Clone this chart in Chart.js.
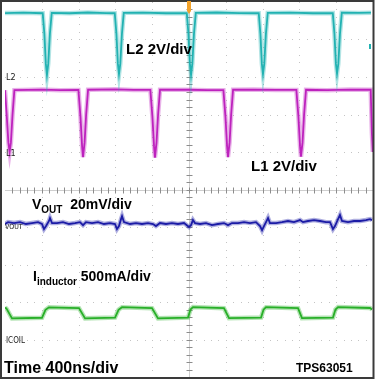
<!DOCTYPE html>
<html>
<head>
<meta charset="utf-8">
<script src="https://cdn.jsdelivr.net/npm/chart.js@4.4.1/dist/chart.umd.min.js"></script>
<style>
html, body { margin: 0; padding: 0; background: #fff; }
canvas { display: block; }
</style>
</head>
<body>
<canvas id="scope" width="376" height="380"></canvas>
<script>
// time base: 400 ns/div, 10 divisions, trigger in the middle
var timeMin = -2000, timeMax = 2000;
var divMin = -5, divMax = 5;

// L2 switch node, volts
var l2Time  = [-2000, -1800, -1590, -1572, -1556, -1544, -1530, -1512, -1492, -1300, -1100, -900,
               -807, -789, -773, -761, -747, -729, -709, -500, -250,
               -24, -6, 10, 22, 36, 54, 74, 300, 550,
               758, 776, 792, 804, 818, 836, 856, 1100, 1350,
               1563, 1581, 1597, 1609, 1623, 1641, 1661, 1850, 1978];
var l2Volts = [3.31, 3.33, 3.30, 2.2, 0.6, 0.0, 0.6, 2.2, 3.32, 3.30, 3.34, 3.31,
               3.30, 2.2, 0.6, 0.05, 0.6, 2.2, 3.32, 3.33, 3.30,
               3.31, 2.2, 0.6, 0.0, 0.6, 2.2, 3.32, 3.34, 3.31,
               3.30, 2.2, 0.6, 0.05, 0.6, 2.2, 3.32, 3.33, 3.30,
               3.31, 2.2, 0.6, 0.07, 0.6, 2.2, 3.33, 3.32, 3.33];

// L1 switch node, volts
var l1Time  = [-2000, -1982, -1963, -1950, -1936, -1918, -1898, -1600, -1400,
               -1202, -1180, -1162, -1152, -1135, -1118, -1097, -800, -600,
               -420, -398, -380, -370, -353, -336, -315, 0, 200,
               374, 396, 414, 424, 441, 458, 479, 700, 950,
               1167, 1189, 1207, 1217, 1234, 1251, 1272, 1500, 1750,
               1975, 1988, 1998];
var l1Volts = [3.30, 2.0, 0.5, 0.0, 0.5, 2.0, 3.30, 3.33, 3.30,
               3.31, 1.9, 0.3, -0.27, 0.5, 2.0, 3.32, 3.34, 3.31,
               3.31, 1.9, 0.3, -0.3, 0.5, 2.0, 3.32, 3.32, 3.30,
               3.30, 1.9, 0.3, -0.27, 0.5, 2.0, 3.32, 3.33, 3.31,
               3.31, 1.9, 0.3, -0.25, 0.5, 2.0, 3.32, 3.30, 3.33,
               3.32, 1.0, 0.0];

// output ripple, mV
var voutTime = [-2000, -1967, -1902, -1837, -1772, -1707, -1641, -1598, -1576, -1554, -1522, -1511, -1489,
                -1435, -1370, -1304, -1239, -1185, -1152, -1120, -1054, -989, -924, -859, -804, -783,
                -761, -739, -728, -707, -641, -576, -511, -446, -391, -359, -315, -250, -185, -120,
                -54, 0, 22, 43, 65, 120, 185, 250, 315, 380, 424, 467, 533, 598, 663, 728, 772, 794,
                815, 848, 859, 880, 946, 1011, 1076, 1141, 1207, 1239, 1294, 1359, 1424, 1489, 1533,
                1565, 1587, 1620, 1641, 1663, 1728, 1794, 1859, 1924, 1967, 1989];
var voutMilliVolts = [1.6, 2.6, 2.1, 2.6, 1.6, 2.1, 2.6, 1.6, -1.1, 0.5, 3.2, 4.8, 2.1,
                      2.1, 2.6, 1.6, 2.1, 2.6, 1.0, 2.6, 2.1, 2.6, 1.6, 2.1, 1.6, -1.1,
                      0.5, 4.2, 5.8, 2.6, 1.6, 2.1, 1.6, 2.1, 1.6, 0.5, 2.1, 1.6, 2.1, 1.6,
                      2.1, 0.0, 1.0, 3.7, 2.1, 1.6, 2.1, 1.0, 1.6, 2.1, 1.0, 2.1, 2.1, 2.6, 2.1, 2.6, 0.5, -1.7,
                      0.5, 3.7, 4.8, 2.1, 2.1, 2.6, 3.2, 2.6, 3.7, 2.6, 3.2, 3.7, 3.2, 2.6, 2.6,
                      -1.1, 0.5, 4.2, 6.4, 3.2, 2.6, 3.2, 3.2, 3.7, 4.2, 3.7];

// inductor current, mA
var coilTime = [-2000, -1985, -1924, -1598, -1560, -1522, -1196, -1130, -804, -766, -728, -402, -337, -11, 16, 43,
                380, 435, 783, 810, 837, 1185, 1228, 1565, 1592, 1620, 1967, 1989];
var coilMilliAmps = [425, 415, 282, 290, 395, 429, 418, 282, 292, 396, 431, 418, 282, 292, 400, 432,
                     418, 284, 292, 398, 431, 418, 284, 292, 400, 432, 420, 400];

// scope channel setup: ground position (div from centre) and units per division
var channels = [
  { name: 'L2', time: l2Time, values: l2Volts, offset: 3.05, perDiv: 2, color: '34,178,178' },
  { name: 'L1', time: l1Time, values: l1Volts, offset: 1.0, perDiv: 2, color: '190,34,190' },
  { name: 'VOUT', time: voutTime, values: voutMilliVolts, offset: -1.0, perDiv: 20, color: '28,28,166' },
  { name: 'ICOIL', time: coilTime, values: coilMilliAmps, offset: -4.0, perDiv: 500, color: '40,176,40' }
];

function toPoints(ch) {
  return ch.time.map(function (t, i) {
    return { x: t, y: ch.offset + ch.values[i] / ch.perDiv };
  });
}

var scopeGrid = {
  id: 'scopeGrid',
  beforeDatasetsDraw: function (chart) {
    var ctx = chart.ctx, xs = chart.scales.x, ys = chart.scales.y;
    var ca = chart.chartArea;
    var xDiv = (timeMax - timeMin) / 10;
    ctx.save();
    // dotted grid
    ctx.fillStyle = '#c4c4c4';
    for (var k = 1; k < 10; k++) {
      if (k === 5) continue;
      var gx = Math.round(xs.getPixelForValue(timeMin + k * xDiv));
      var gy = Math.round(ys.getPixelForValue(divMin + k));
      for (var s = 0; s <= 50; s++) {
        var py = Math.round(ys.getPixelForValue(divMin + s / 5));
        var px = Math.round(xs.getPixelForValue(timeMin + s * xDiv / 5));
        ctx.fillRect(gx, py, 1, 1);
        ctx.fillRect(px, gy, 1, 1);
      }
    }
    // centre cross with minor ticks
    var cx = Math.round(xs.getPixelForValue(0)) + 0.5;
    var cy = Math.round(ys.getPixelForValue(0)) + 0.5;
    ctx.strokeStyle = '#cfcfcf';
    ctx.lineWidth = 1;
    ctx.beginPath();
    ctx.moveTo(ca.left, cy); ctx.lineTo(ca.right, cy);
    ctx.moveTo(cx, ca.top); ctx.lineTo(cx, ca.bottom);
    ctx.stroke();
    ctx.strokeStyle = '#8c8c8c';
    ctx.beginPath();
    for (var m = 1; m < 50; m++) {
      var tx = Math.round(xs.getPixelForValue(timeMin + m * xDiv / 5)) + 0.5;
      var ty = Math.round(ys.getPixelForValue(divMin + m / 5)) + 0.5;
      ctx.moveTo(tx, cy - 3); ctx.lineTo(tx, cy + 3);
      ctx.moveTo(cx - 3, ty); ctx.lineTo(cx + 3, ty);
    }
    ctx.stroke();
    ctx.restore();
  },
  afterDraw: function (chart) {
    var ctx = chart.ctx, ca = chart.chartArea;
    ctx.save();
    ctx.strokeStyle = '#3a3a3a';
    ctx.lineWidth = 2;
    ctx.strokeRect(1, 1, ca.right - 0.5, ca.bottom);
    ctx.restore();
  }
};

function textWithSub(ctx, x, y, main, sub, rest, mainFont, subFont) {
  ctx.font = mainFont;
  ctx.fillText(main, x, y);
  x += ctx.measureText(main).width;
  ctx.font = subFont;
  ctx.fillText(sub, x, y + 4);
  x += ctx.measureText(sub).width;
  ctx.font = mainFont;
  ctx.fillText(rest, x, y);
}

var scopeText = {
  id: 'scopeText',
  afterDraw: function (chart) {
    var ctx = chart.ctx;
    var big = 'bold 15px "Liberation Sans", Arial, sans-serif';
    var mid = 'bold 14px "Liberation Sans", Arial, sans-serif';
    var sub = 'bold 10px "Liberation Sans", Arial, sans-serif';
    var tiny = '"Liberation Sans Narrow", "DejaVu Sans Condensed", sans-serif';
    ctx.save();
    ctx.textBaseline = 'alphabetic';
    ctx.fillStyle = '#000';
    ctx.font = big;
    ctx.fillText('L2 2V/div', 126, 54);
    ctx.fillText('L1 2V/div', 251, 171);
    textWithSub(ctx, 32, 209, 'V', 'OUT', '  20mV/div', mid, sub);
    textWithSub(ctx, 33, 281, 'I', 'inductor', ' 500mA/div', mid, sub);
    ctx.font = 'bold 16px "Liberation Sans", Arial, sans-serif';
    ctx.fillText('Time 400ns/div', 4, 373);
    ctx.font = 'bold 12px "Liberation Sans", Arial, sans-serif';
    ctx.fillText('TPS63051', 296, 372);

    // channel ground labels
    ctx.fillStyle = '#222';
    ctx.font = '9px ' + tiny;
    ctx.fillText('L2', 6, 80);
    ctx.fillText('L1', 6, 156);
    ctx.font = '7px ' + tiny;
    ctx.fillText('VOUT', 5, 229);
    ctx.font = '8px ' + tiny;
    ctx.fillText('ICOIL', 6, 343);

    // trigger position and level markers
    var tx = chart.scales.x.getPixelForValue(0);
    ctx.fillStyle = '#f2a22a';
    ctx.beginPath();
    ctx.moveTo(tx - 2, 1); ctx.lineTo(tx + 2, 1); ctx.lineTo(tx + 2, 11);
    ctx.lineTo(tx, 14); ctx.lineTo(tx - 2, 11); ctx.closePath();
    ctx.fill();
    ctx.fillStyle = 'rgb(34,178,178)';
    ctx.fillRect(369, 44, 2, 5);
    ctx.restore();
  }
};

// each trace drawn twice: a faint wide band for the scope noise, then the core line
var traceSets = [];
channels.forEach(function (ch) {
  var pts = toPoints(ch);
  traceSets.push({ label: ch.name + ' band', data: pts, showLine: true, borderColor: 'rgba(' + ch.color + ',0.35)',
                   borderWidth: 4.5, pointRadius: 0, tension: 0 });
  traceSets.push({ label: ch.name, data: pts, showLine: true, borderColor: 'rgb(' + ch.color + ')',
                   borderWidth: 1.8, pointRadius: 0, tension: 0 });
});

new Chart(document.getElementById('scope'), {
  type: 'scatter',
  data: { datasets: traceSets },
  options: {
    responsive: false,
    animation: false,
    devicePixelRatio: 1,
    layout: { padding: { left: 5, top: 2, right: 3, bottom: 3 } },
    plugins: { legend: { display: false }, tooltip: { enabled: false } },
    scales: {
      x: { type: 'linear', display: false, min: timeMin, max: timeMax },
      y: { type: 'linear', display: false, min: divMin, max: divMax }
    }
  },
  plugins: [scopeGrid, scopeText]
});
</script>
</body>
</html>
